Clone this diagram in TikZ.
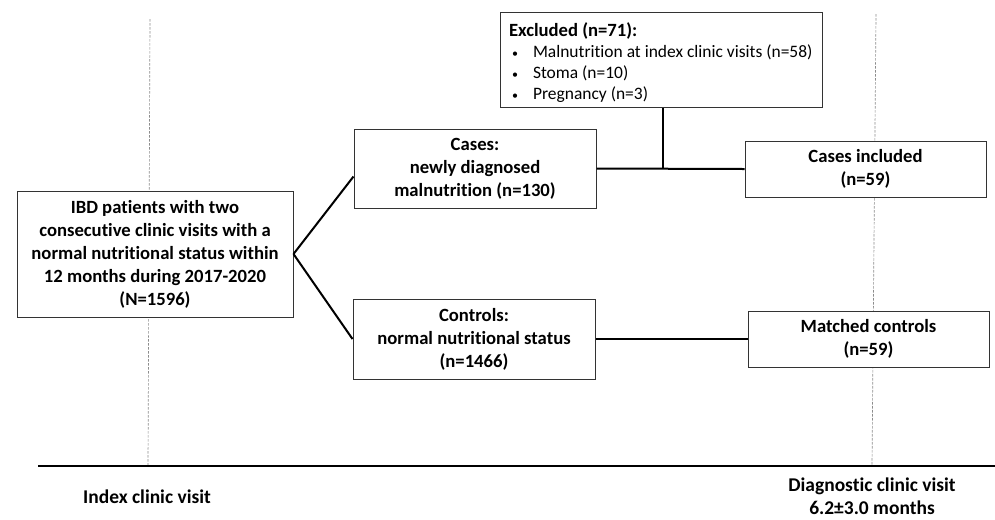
\documentclass[tikz,border=0pt]{standalone}
\usepackage{fontspec}
\setmainfont{Carlito}[Ligatures=NoCommon]
\usepackage{tikz}

\tikzset{
	box/.style={draw=black!80, line width=0.75pt, fill=white, align=center, inner sep=2pt,
		font=\bfseries\fontsize{14}{17.25}\selectfont},
	link/.style={line width=1.5pt},
	visit/.style={draw=black!45, line width=0.5pt, dash pattern=on 2pt off 1pt},
	lab/.style={align=center, inner sep=0pt, font=\bfseries\fontsize{14.6}{17.25}\selectfont},
}
\newcommand{\blt}{\hspace*{2.25pt}\makebox[15.75pt][l]{\fontsize{9}{9}\selectfont\textbullet}}

\begin{document}
\begin{tikzpicture}[x=0.75pt, y=-0.75pt]
	\useasboundingbox (0,0) rectangle (995,519);

	% time line
	\coordinate (idxtop) at (150,19);
	\coordinate (idxbot) at (148,466);
	\coordinate (diagtop) at (876,14);
	\coordinate (diagbot) at (872,466);
	\coordinate (axl) at (38,466);
	\coordinate (axr) at (995,466);
	\draw[visit] (idxtop) -- (idxbot);
	\draw[visit] (diagtop) -- (diagbot);
	\draw[link] (axl) -- (axr);

	\node[box, minimum width=207pt, minimum height=94.5pt] (pat) at (155,254)
		{IBD patients with two\\consecutive clinic visits with a\\normal nutritional status within\\12 months during 2017-2020\\(N=1596)};
	\node[box, minimum width=181.5pt, minimum height=59.25pt] (cases) at (475,168.5)
		{Cases:\\newly diagnosed\\malnutrition (n=130)};
	\node[box, minimum width=181.5pt, minimum height=60pt] (ctrl) at (474,339)
		{Controls:\\normal nutritional status\\(n=1466)};
	\node[box, minimum width=241.5pt, minimum height=71.25pt, text width=228pt, inner xsep=6.75pt,
		align=flush left, font=\fontsize{13.1}{15.75}\selectfont] (excl) at (661,59.5)
		{\rule{0pt}{15pt}{\bfseries\fontsize{14}{15.75}\selectfont Excluded (n=71):}\\
		\blt Malnutrition at index clinic visits (n=58)\\
		\blt Stoma (n=10)\\
		\blt Pregnancy (n=3)};
	\node[box, minimum width=180.75pt, minimum height=42pt] (incl) at (865.5,169)
		{Cases included\\(n=59)};
	\node[box, minimum width=180.75pt, minimum height=42pt] (match) at (868.5,339)
		{Matched controls\\(n=59)};

	\draw[link] (pat.east) -- ([yshift=-6pt]cases.west);
	\draw[link] (pat.east) -- (ctrl.west);
	\draw[link] (cases.east) -- (incl.west);
	\draw[link] ([xshift=1.5pt]excl.south) -- ([xshift=1.5pt]excl.south |- incl.west);
	\draw[link] (ctrl.east) -- (match.west);

	\node[lab] (idx) at (147,497) {Index clinic visit};
	\node[lab] (diag) at (872,496.5) {Diagnostic clinic visit\\6.2±3.0 months};

\end{tikzpicture}
\end{document}
